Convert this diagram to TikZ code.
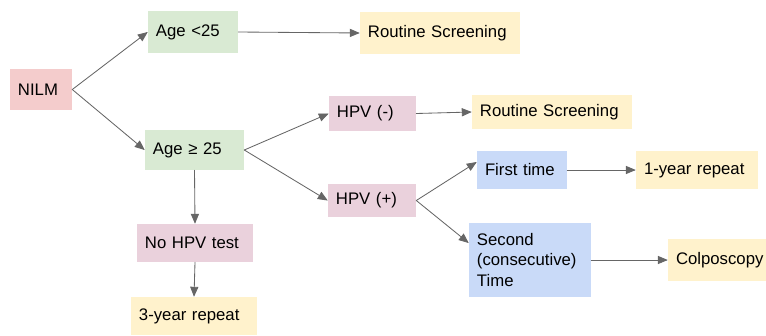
\documentclass[tikz,border=0pt]{standalone}
\usepackage{fontspec}
\setmainfont{Liberation Sans}
\usepackage{tikz}
\usetikzlibrary{arrows}
\definecolor{redbox}{HTML}{F4CCCC}
\definecolor{greenbox}{HTML}{D9EAD3}
\definecolor{yellowbox}{HTML}{FFF2CC}
\definecolor{pinkbox}{HTML}{EAD1DC}
\definecolor{bluebox}{HTML}{C9DAF8}
\definecolor{arrowgray}{HTML}{666666}
\tikzset{
  box/.style={rectangle,inner xsep=0.2cm,inner ysep=0pt,align=left,
    font=\fontsize{11.9}{14.3}\selectfont},
  arr/.style={->,color=arrowgray,line width=0.6pt}
}

\begin{document}
\begin{tikzpicture}[line cap=round,line join=round,>=triangle 45,x=0.025cm,y=-0.025cm]
\useasboundingbox (0,0) rectangle (766,335);
\node[box,fill=redbox,text width=1.15cm,minimum height=1.025cm] (nilm) at (41,89.5) {NILM};
\node[box,fill=greenbox,text width=1.85cm,minimum height=1.05cm] (young) at (193,32) {Age {<}25};
\node[box,fill=yellowbox,text width=3.6cm,minimum height=1.05cm] (routineA) at (440,33) {Routine Screening};
\node[box,fill=greenbox,text width=2.075cm,minimum height=1cm] (old) at (194.5,150) {Age ≥ 25};
\node[box,fill=pinkbox,text width=1.775cm,minimum height=0.875cm] (hpvneg) at (372.5,113.5) {HPV (-)};
\node[box,fill=yellowbox,text width=3.6cm,minimum height=0.825cm] (routineB) at (552,112) {Routine Screening};
\node[box,fill=pinkbox,text width=1.8cm,minimum height=0.825cm] (hpvpos) at (372,200.5) {HPV (+)};
\node[box,fill=bluebox,text width=1.85cm,minimum height=0.95cm] (first) at (522,170) {First time};
\node[box,fill=yellowbox,text width=2.65cm,minimum height=0.95cm] (oneyear) at (697,170) {1-year repeat};
\node[box,fill=bluebox,text width=2.65cm,minimum height=1.825cm] (second) at (530,260) {Second\\(consecutive)\\Time};
\node[box,fill=yellowbox,text width=2.05cm,minimum height=1.05cm] (colpo) at (717,260) {Colposcopy};
\node[box,fill=pinkbox,text width=2.5cm,minimum height=0.95cm] (nohpv) at (195,243) {No HPV test};
\node[box,fill=yellowbox,text width=2.75cm,minimum height=0.95cm] (threeyear) at (194,316) {3-year repeat};
\draw[arr] (nilm.east) -- (young.west);
\draw[arr] (nilm.east) -- (old.west);
\draw[arr] (young.east) -- (routineA.west);
\draw[arr] (old.east) -- (hpvneg.west);
\draw[arr] (old.east) -- (hpvpos.west);
\draw[arr] (hpvneg.east) -- (routineB.west);
\draw[arr] (hpvpos.east) -- ([yshift=0.2cm]first.west);
\draw[arr] (hpvpos.east) -- ([yshift=0.425cm]second.west);
\draw[arr] (first.east) -- (oneyear.west);
\draw[arr] (second.east) -- (colpo.west);
\draw[arr] (old.south) -- (nohpv.north);
\draw[arr] (nohpv.south) -- (threeyear.north);
\end{tikzpicture}
\end{document}
